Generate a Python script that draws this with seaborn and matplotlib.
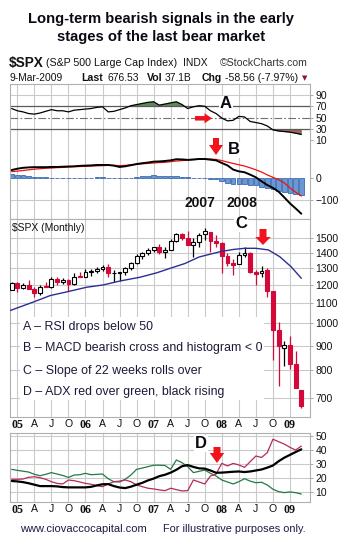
import matplotlib
matplotlib.use("Agg")
import matplotlib.pyplot as plt
import matplotlib.patches as mpatches
import matplotlib.ticker as mticker
import numpy as np
import pandas as pd
import seaborn as sns

sns.set_style("white")
plt.rcParams['font.family'] = ['Liberation Sans', 'DejaVu Sans']

# ---------------- data (monthly, month index 0 = Jan 2005) ----------------
months = list(range(-1, 51))  # Dec 2004 .. Mar 2009

opens = [1173.8, 1211.9, 1181.3, 1203.6, 1180.6, 1156.9, 1191.5, 1191.3, 1234.2, 1220.3, 1228.8, 1207.0, 1249.5,
         1248.3, 1280.1, 1280.7, 1294.9, 1310.6, 1270.1, 1270.2, 1276.7, 1303.8, 1335.8, 1377.9, 1400.6,
         1418.3, 1437.9, 1406.8, 1420.8, 1482.4, 1530.6, 1504.7, 1455.2, 1474.0, 1527.3, 1545.8, 1479.6,
         1468.0, 1378.6, 1330.5, 1326.4, 1386.0, 1399.6, 1276.7, 1269.4, 1287.8, 1164.2, 968.7, 888.6,
         903.0, 823.1, 729.6]
highs = [1217.9, 1217.8, 1212.4, 1229.1, 1191.9, 1199.6, 1219.6, 1245.2, 1245.9, 1243.1, 1233.3, 1270.6, 1275.8,
         1294.9, 1297.6, 1310.9, 1318.2, 1326.7, 1290.7, 1280.4, 1306.7, 1340.3, 1389.5, 1407.9, 1431.8,
         1441.6, 1461.6, 1438.9, 1498.0, 1535.6, 1540.6, 1555.9, 1503.9, 1538.7, 1576.1, 1545.8, 1523.6,
         1471.8, 1396.0, 1359.7, 1404.1, 1440.2, 1404.1, 1292.2, 1313.2, 1303.0, 1167.0, 1007.5, 918.9,
         943.9, 875.0, 730.0]
lows = [1173.8, 1163.8, 1180.9, 1176.9, 1136.2, 1146.2, 1188.3, 1183.6, 1201.1, 1205.4, 1168.2, 1201.1, 1246.6,
        1245.7, 1253.6, 1268.4, 1280.7, 1245.3, 1219.3, 1224.5, 1261.3, 1290.9, 1327.1, 1361.0, 1385.9,
        1404.0, 1389.4, 1364.0, 1416.4, 1476.7, 1484.2, 1454.3, 1370.6, 1439.3, 1489.6, 1406.1, 1435.7,
        1270.1, 1316.8, 1257.0, 1324.4, 1373.7, 1272.0, 1200.4, 1247.5, 1133.5, 839.8, 741.0, 815.7,
        804.5, 734.5, 668.0]
closes = [1211.9, 1181.3, 1203.6, 1180.6, 1156.9, 1191.5, 1191.3, 1234.2, 1220.3, 1228.8, 1207.0, 1249.5, 1248.3,
          1280.1, 1280.7, 1294.9, 1310.6, 1270.1, 1270.2, 1276.7, 1303.8, 1335.9, 1377.9, 1400.6, 1418.3,
          1438.2, 1406.8, 1420.9, 1482.4, 1530.6, 1503.4, 1455.3, 1474.0, 1526.8, 1549.4, 1481.1, 1468.4,
          1378.6, 1330.6, 1322.7, 1385.6, 1400.4, 1280.0, 1267.4, 1282.8, 1166.4, 968.8, 896.2, 903.3,
          825.9, 735.1, 676.5]
prev_close_dec04 = 1173.8

ma_months = [-1.3, 2.8, 5.8, 8.7, 12.2, 15.1, 18.1, 21.6, 24.5, 26.9, 29.5, 32, 35.7, 38, 40, 42, 44.2, 46.2, 48.2, 50]
ma_values = [1063, 1107, 1142, 1162, 1188, 1201, 1224, 1246, 1272, 1300, 1330, 1372, 1407, 1422, 1430, 1430, 1419, 1374, 1310, 1240]

rsi = [66, 62, 60, 57, 56, 58, 61, 64, 62, 62, 60, 63, 64, 65, 66, 68, 69, 60, 61, 64,
       67, 71, 73, 75, 77, 78, 72, 74, 76, 78, 73, 66, 69, 71, 70, 62, 57, 49, 44, 45,
       52, 51, 43, 41, 39, 35, 28, 26, 25, 24, 22, 20]

macd = [36, 42, 46, 48, 49, 49, 49, 50, 50, 51, 52, 53, 55, 56, 57, 59, 59, 59, 56, 50,
        53, 58, 63, 67, 70, 74, 75, 77, 80, 85, 84, 82, 84, 86, 86, 83, 80, 68, 57, 38,
        30, 26, 15, 3, -15, -32, -45, -62, -88, -115, -138, -162]
signal = [29, 31, 34, 37, 40, 42, 44, 45, 47, 48, 50, 51, 52, 53, 54, 55, 56, 57, 57, 56,
          57, 60, 62, 64, 66, 68, 70, 71, 74, 77, 79, 81, 83, 85, 86, 86, 84, 79, 72, 66,
          60, 54, 46, 37, 27, 14, 3, -8, -22, -45, -64, -82]
hist = [16, 14, 12, 9, 6, 4, 3, 2, 2, 2, 2, 2, 2, 2, 2, 3, 3, 2, 1, -2,
        0, 2, 5, 7, 10, 12, 9, 8, 10, 9, 6, 3, 2, 1, 0, -3, -6, -14, -22, -26,
        -28, -28, -30, -32, -40, -46, -50, -58, -64, -70, -72, -78]

adx = [18.1, 17.8, 17.3, 16.5, 15.5, 14.5, 14.5, 14.5, 14.3, 13.8, 13.6, 13.6, 13.6, 13.6, 14.0, 15.0, 15.8, 15.9, 14.5, 13.5,
       13.1, 14.1, 15.5, 16.8, 18.5, 19.8, 21.5, 22.5, 24, 26, 28.5, 29.3, 28, 27, 26.8, 25.5, 23.9, 24, 24.3, 24.6,
       24.8, 24.4, 24.8, 25.5, 26.2, 27.5, 29, 32, 34.5, 36.5, 38.5, 40.4]
plus_di = [26.3, 25.6, 25, 24.4, 22.8, 21.8, 22.8, 24, 23, 22, 20.6, 22.3, 22.5, 23.5, 22.5, 22.8, 23, 19.7, 17.6, 17.4,
           19.3, 22.3, 26.3, 27.2, 28.2, 29.2, 29.2, 29, 26.3, 32.9, 31, 28.2, 24, 24.9, 25.8, 23.5, 21.6, 18.8, 17.4, 16,
           17.6, 19.7, 18, 16.9, 17.2, 15.3, 12.3, 10.6, 9.9, 10.4, 9.9, 8.9]
minus_di = [19.3, 19.3, 19.5, 20.7, 21.1, 20.4, 19.3, 17.6, 16.4, 16, 18.8, 18.3, 17.4, 16.4, 15.8, 14.8, 14.1, 16, 17.6, 18,
            18.8, 17.6, 15.3, 14.1, 13, 12.5, 11.8, 11.3, 13, 12, 11.1, 11.3, 18.8, 17.4, 16, 21.6, 23, 30.5, 28.7, 30.5,
            29.4, 27.7, 31.7, 35.7, 34.7, 38, 47.5, 45.8, 44.1, 41.8, 39.9, 42.7]

quarter_ticks = list(range(0, 49, 3))
quarter_labels = ["05", "A", "J", "O", "06", "A", "J", "O", "07", "A", "J", "O", "08", "A", "J", "O", "09"]
rsi_ticks = [90, 70, 50, 30, 10]
macd_ticks = [0, -100]
price_ticks = [1500, 1400, 1300, 1200, 1100, 1000, 900, 800, 700]
adx_ticks = [50, 40, 30, 20, 10]

# ---------------- figure ----------------
W, H = 342, 550
fig = plt.figure(figsize=(W / 100, H / 100), dpi=100)
fig.patch.set_facecolor("white")

def panel(top, bottom, left=10, right=310):
    return fig.add_axes([left / W, 1 - bottom / H, (right - left) / W, (bottom - top) / H])

ax_rsi = panel(84, 146)
ax_macd = panel(146, 219)
ax_px = panel(219, 417)
ax_adx = panel(433, 502)

GRID = "#cacaca"
XMIN, XMAX = -1.29, 51.53
RED = "#d3093a"

def style(ax):
    ax.set_xlim(XMIN, XMAX)
    ax.set_xticks(quarter_ticks)
    ax.grid(False)
    for x in quarter_ticks:
        ax.axvline(x, color=GRID, lw=0.8, zorder=0)
    ax.yaxis.tick_right()
    ax.tick_params(axis="y", which="both", length=2.5, width=0.6, color="#999999", pad=1.5,
                   labelsize=7.5, labelcolor="#111111")
    ax.tick_params(axis="x", length=0, labelbottom=False)
    for s in ax.spines.values():
        s.set_color("#b0b0b0")
        s.set_linewidth(0.8)
    ax.set_xlabel("")
    ax.set_ylabel("")
    ax.set_facecolor("white")

# ---- RSI ----
sns.lineplot(x=months, y=rsi, ax=ax_rsi, color="black", linewidth=0.9, legend=False, estimator=None)
m_arr = np.array(months, dtype=float)
r_arr = np.array(rsi, dtype=float)
ax_rsi.fill_between(m_arr, r_arr, 70, where=r_arr > 70, interpolate=True, color="#5e8a5a", lw=0, zorder=1)
ax_rsi.fill_between(m_arr, r_arr, 30, where=r_arr < 30, interpolate=True, color="#9a675f", lw=0, zorder=1)
ax_rsi.axhline(90, color=GRID, lw=0.8, zorder=0)
ax_rsi.axhline(70, color="#5a5a5a", lw=0.9, zorder=1)
ax_rsi.axhline(30, color="#5a5a5a", lw=0.9, zorder=1)
ax_rsi.axhline(50, color="#707070", lw=0.8, ls=(0, (7, 2, 1.5, 2)), zorder=1)
style(ax_rsi)
ax_rsi.set_ylim(-0.7, 109.6)
ax_rsi.set_yticks(rsi_ticks)
ax_rsi.spines["bottom"].set_visible(False)

# ---- MACD ----
ax_macd.bar(months, hist, width=0.82, color="#6b98d2", edgecolor="#3b6cae", linewidth=0.6, zorder=2)
sns.lineplot(x=months, y=signal, ax=ax_macd, color="#ee1111", linewidth=0.9, legend=False, estimator=None, zorder=3)
sns.lineplot(x=months, y=macd, ax=ax_macd, color="black", linewidth=1.4, legend=False, estimator=None, zorder=4)
ax_macd.axhline(-100, color=GRID, lw=0.8, zorder=0)
style(ax_macd)
ax_macd.set_ylim(-186, 145)
ax_macd.set_yticks(macd_ticks)
ax_macd.spines["top"].set_visible(False)

# ---- Price (candles) ----
ax_px.set_yscale("log")
prev = [prev_close_dec04] + closes[:-1]
for m, o, h, l, c, p in zip(months, opens, highs, lows, closes, prev):
    col = RED if c < p else "black"
    fill = "white" if c >= o else col
    ax_px.vlines(m, l, h, color=col, lw=0.9, zorder=2)
    lo, hi = min(o, c), max(o, c)
    if hi / lo < 1.003:
        hi = lo * 1.003
    ax_px.bar(m, hi - lo, bottom=lo, width=0.68, facecolor=fill, edgecolor=col, linewidth=0.8, zorder=3)
sns.lineplot(x=ma_months, y=ma_values, ax=ax_px, color="#2b2f95", linewidth=1.0, legend=False,
             estimator=None, sort=False, zorder=4)
style(ax_px)
ax_px.set_ylim(640.6, 1644)
ax_px.set_yticks(price_ticks)
ax_px.set_yticklabels([str(t) for t in price_ticks])
ax_px.yaxis.set_minor_locator(mticker.NullLocator())
for v in price_ticks:
    ax_px.axhline(v, color=GRID, lw=0.8, zorder=0)

# ---- ADX ----
sns.lineplot(x=months, y=plus_di, ax=ax_adx, color="#237a45", linewidth=0.9, legend=False, estimator=None)
sns.lineplot(x=months, y=minus_di, ax=ax_adx, color="#b42a5c", linewidth=0.9, legend=False, estimator=None)
sns.lineplot(x=months, y=adx, ax=ax_adx, color="black", linewidth=1.6, legend=False, estimator=None)
style(ax_adx)
ax_adx.set_ylim(3.3, 51.9)
ax_adx.set_yticks(adx_ticks)
for v in adx_ticks:
    ax_adx.axhline(v, color=GRID, lw=0.8, zorder=0)

# x labels under price and ADX panels
for ax in (ax_px, ax_adx):
    ax.tick_params(axis="x", labelbottom=True, pad=1.5, labelsize=7.6, labelcolor="#111111")
    ax.set_xticklabels(quarter_labels)
    for lbl in ax.get_xticklabels():
        if lbl.get_text().isdigit():
            lbl.set_fontfamily(["Liberation Serif", "DejaVu Serif"])
            lbl.set_fontweight("bold")
            lbl.set_fontsize(8.6)

# ---------------- overlay (pixel coordinates) ----------------
ov = fig.add_axes([0, 0, 1, 1])
ov.set_xlim(0, W)
ov.set_ylim(H, 0)
ov.axis("off")
ov.patch.set_alpha(0)

ov.text(161, 19, "Long-term bearish signals in the early", ha="center", va="center",
        fontsize=10.6, fontweight="bold", color="#0a0a14")
ov.text(161, 37, "stages of the last bear market", ha="center", va="center",
        fontsize=10.6, fontweight="bold", color="#0a0a14")

hdr = dict(va="center", color="#111111")
ov.text(9, 63, "$SPX", fontsize=9.8, fontweight="bold", **hdr)
ov.text(46, 63.5, "(S&P 500 Large Cap Index)", fontsize=7.7, **hdr)
ov.text(183, 63.5, "INDX", fontsize=7.4, **hdr)
ov.text(220, 63.5, "\u00a9StockCharts.com", fontsize=7.6, color="#333333", va="center")
ov.text(9, 78, "9-Mar-2009", fontsize=7.4, **hdr)
ov.text(81, 78, "Last", fontsize=7.6, fontweight="bold", **hdr)
ov.text(107, 78, "676.53", fontsize=7.4, **hdr)
ov.text(147, 78, "Vol", fontsize=7.6, fontweight="bold", **hdr)
ov.text(165, 78, "37.1B", fontsize=7.4, **hdr)
ov.text(202, 78, "Chg", fontsize=7.6, fontweight="bold", **hdr)
ov.text(225, 78, "-58.56 (-7.97%)", fontsize=7.6, **hdr)
ov.text(305, 78.5, "\u25bc", fontsize=5, color="#8e1236", va="center", ha="center",
        family=["DejaVu Sans"])

ov.text(12, 228, "$SPX (Monthly)", fontsize=7.5, color="#111111", va="center")

# legend box
ov.add_patch(mpatches.Rectangle((20, 317), 244, 83, facecolor="white", edgecolor="none", zorder=5))
leg = ["A \u2013 RSI drops below 50",
       "B \u2013 MACD bearish cross and histogram < 0",
       "C \u2013 Slope of 22 weeks rolls over",
       "D \u2013 ADX red over green, black rising"]
for t, y in zip(leg, [327, 348.5, 371, 392.5]):
    ov.text(23, y, t, fontsize=8.9, color="#1a1a38", va="center", zorder=6)

# year annotations
ov.text(200, 203, "2007", fontsize=10, fontweight="bold", ha="center", va="center", color="#111111")
ov.text(242, 203, "2008", fontsize=10, fontweight="bold", ha="center", va="center", color="#111111")

lbl_box = dict(facecolor="white", edgecolor="none", pad=0.5)
for t, x, y in [("A", 226, 104), ("B", 234, 150), ("C", 241, 224), ("D", 201, 443.5)]:
    ov.text(x, y, t, fontsize=12, fontweight="bold", ha="center", va="center", color="#0a0a14",
            bbox=lbl_box, zorder=6)

ARROW = "#f2121c"

def down_arrow(xc, y0, y1, sw, hw, hl):
    pts = [(xc - sw / 2, y0), (xc + sw / 2, y0), (xc + sw / 2, y1 - hl), (xc + hw / 2, y1 - hl),
           (xc, y1), (xc - hw / 2, y1 - hl), (xc - sw / 2, y1 - hl)]
    ov.add_patch(mpatches.Polygon(pts, closed=True, facecolor=ARROW, edgecolor="none", zorder=7))

def right_arrow(x0, x1, yc, sw, hw, hl):
    pts = [(x0, yc - sw / 2), (x1 - hl, yc - sw / 2), (x1 - hl, yc - hw / 2), (x1, yc),
           (x1 - hl, yc + hw / 2), (x1 - hl, yc + sw / 2), (x0, yc + sw / 2)]
    ov.add_patch(mpatches.Polygon(pts, closed=True, facecolor=ARROW, edgecolor="none", zorder=7))

right_arrow(195, 212, 118.3, 4.5, 10, 7.5)
down_arrow(216, 138, 155, 6, 14, 10)
down_arrow(263, 229, 245, 7, 15.5, 8)
down_arrow(217, 447, 463, 7, 14.5, 10)

ov.text(20, 529, "www.ciovaccocapital.com", fontsize=8.0, color="#1c1c44", va="center")
ov.text(163, 529, "For illustrative purposes only.", fontsize=7.9, color="#1c1c44", va="center")

fig.savefig("out.png", dpi=100, facecolor="white")
